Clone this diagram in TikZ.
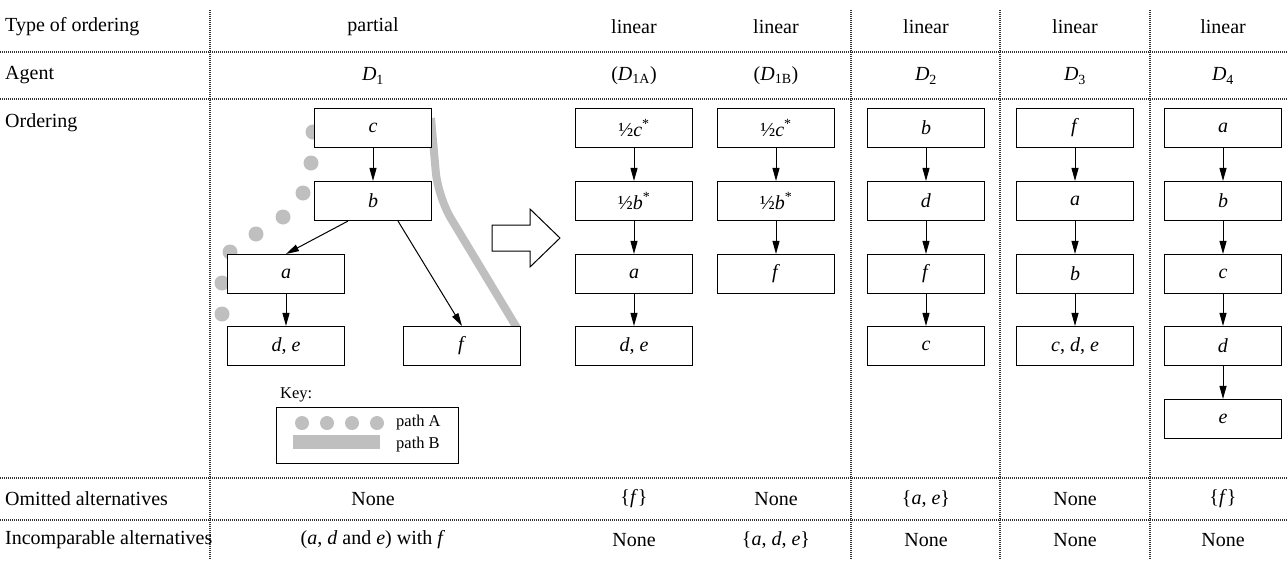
\documentclass[tikz,border=0pt]{standalone}
\usepackage{fontspec}
\setmainfont{Liberation Serif}
\usetikzlibrary{arrows.meta}
\newcommand\vv[1]{\textit{#1}}
\begin{document}
\begin{tikzpicture}[x=1pt,y=-1pt,
  font=\fontsize{20}{23}\selectfont,
  box/.style={draw=black,line width=1.1pt,fill=white,minimum width=117pt,minimum height=39pt,inner sep=0pt},
  arr/.style={-{Triangle[length=13pt,width=7pt]},line width=1pt},
  sep/.style={line width=1.1pt,dash pattern=on 1pt off 1pt,black!80},
  lab/.style={anchor=west,inner sep=0pt},
  cell/.style={inner sep=0pt},
  dotA/.style={fill=black!25,draw=none},
  pathB/.style={line width=8pt,black!25,rounded corners=25pt},
  keyfont/.style={font=\fontsize{16.5}{19}\selectfont},
]
\useasboundingbox (0,0) rectangle (1288,560);
% separators
\foreach \yy in {52,99,478,520} \draw[sep] (0,\yy) -- (1288,\yy);
\foreach \xx in {210,851,1000,1150} \draw[sep] (\xx,10) -- (\xx,560);
% row labels
\node[lab] (r1) at (5,27) {Type of ordering};
\node[lab] (r2) at (5,75) {Agent};
\node[lab] (r3) at (5,123) {Ordering};
\node[lab] (r4) at (5,499) {Omitted alternatives};
\node[lab] (r5) at (5,540) {Incomparable alternatives};
% headers
\node[cell] (t1) at (373,27) {partial};
\node[cell] (t2) at (634,27) {linear};
\node[cell] (t3) at (776,27) {linear};
\node[cell] (t4) at (926,27) {linear};
\node[cell] (t5) at (1075,27) {linear};
\node[cell] (t6) at (1223,27) {linear};
\node[cell] (g1) at (373,76) {\vv{D}\textsubscript{1}};
\node[cell] (g2) at (634,76) {(\vv{D}\textsubscript{1A})};
\node[cell] (g3) at (776,76) {(\vv{D}\textsubscript{1B})};
\node[cell] (g4) at (926,76) {\vv{D}\textsubscript{2}};
\node[cell] (g5) at (1075,76) {\vv{D}\textsubscript{3}};
\node[cell] (g6) at (1223,76) {\vv{D}\textsubscript{4}};
% omitted
\node[cell] (o1) at (373,499) {None};
\node[cell] (o2) at (634,499) {\{\vv{f}\}};
\node[cell] (o3) at (776,499) {None};
\node[cell] (o4) at (926,499) {\{\vv{a}, \vv{e}\}};
\node[cell] (o5) at (1075,499) {None};
\node[cell] (o6) at (1223,499) {\{\vv{f}\}};
% incomparable
\node[cell] (i1) at (373,540) {(\vv{a}, \vv{d} and \vv{e}) with \vv{f}};
\node[cell] (i2) at (634,540) {None};
\node[cell] (i3) at (776,540) {\{\vv{a}, \vv{d}, \vv{e}\}};
\node[cell] (i4) at (926,540) {None};
\node[cell] (i5) at (1075,540) {None};
\node[cell] (i6) at (1223,540) {None};
% path A dots and path B
\foreach \px/\py in {313/132,311/163,303/193,283/217,256/234,230/252,222/283,222/314}
  \fill[dotA] (\px,\py) circle (7.5);
\coordinate (pb0) at (431,118);
\coordinate (pb1) at (438,197);
\coordinate (pb2) at (517,328);
\draw[pathB] (pb0) -- (pb1) -- (pb2);
% D1
\node[box] (c1) at (373,128) {\vv{c}};
\node[box] (b1) at (373,201) {\vv{b}};
\node[box] (a1) at (286,274) {\vv{a}};
\node[box] (de1) at (286,346) {\vv{d}, \vv{e}};
\node[box] (f1) at (462,346) {\vv{f}};
\draw[arr] (c1) -- (b1);
\draw[arr] ([xshift=-25pt]b1.south) -- (a1.north);
\draw[arr] ([xshift=25pt]b1.south) -- (f1.north);
\draw[arr] (a1) -- (de1);
% hollow arrow
\draw[line width=1pt,fill=white] (492,225) -- (530,225) -- (530,209) -- (560,238) -- (530,267) -- (530,251) -- (492,251) -- cycle;
% D1A
\node[box] (p1) at (634,128) {½\vv{c}\textsuperscript{*}};
\node[box] (p2) at (634,201) {½\vv{b}\textsuperscript{*}};
\node[box] (p3) at (634,274) {\vv{a}};
\node[box] (p4) at (634,346) {\vv{d}, \vv{e}};
\draw[arr] (p1) -- (p2);
\draw[arr] (p2) -- (p3);
\draw[arr] (p3) -- (p4);
% D1B
\node[box] (q1) at (776,128) {½\vv{c}\textsuperscript{*}};
\node[box] (q2) at (776,201) {½\vv{b}\textsuperscript{*}};
\node[box] (q3) at (776,274) {\vv{f}};
\draw[arr] (q1) -- (q2);
\draw[arr] (q2) -- (q3);
% D2
\node[box] (s1) at (926,128) {\vv{b}};
\node[box] (s2) at (926,201) {\vv{d}};
\node[box] (s3) at (926,274) {\vv{f}};
\node[box] (s4) at (926,346) {\vv{c}};
\draw[arr] (s1) -- (s2);
\draw[arr] (s2) -- (s3);
\draw[arr] (s3) -- (s4);
% D3
\node[box] (u1) at (1075,128) {\vv{f}};
\node[box] (u2) at (1075,201) {\vv{a}};
\node[box] (u3) at (1075,274) {\vv{b}};
\node[box] (u4) at (1075,346) {\vv{c}, \vv{d}, \vv{e}};
\draw[arr] (u1) -- (u2);
\draw[arr] (u2) -- (u3);
\draw[arr] (u3) -- (u4);
% D4
\node[box] (w1) at (1223,128) {\vv{a}};
\node[box] (w2) at (1223,201) {\vv{b}};
\node[box] (w3) at (1223,274) {\vv{c}};
\node[box] (w4) at (1223,346) {\vv{d}};
\node[box] (w5) at (1223,419) {\vv{e}};
\draw[arr] (w1) -- (w2);
\draw[arr] (w2) -- (w3);
\draw[arr] (w3) -- (w4);
\draw[arr] (w4) -- (w5);
% key
\node[lab,keyfont] (keyt) at (280,395) {Key:};
\node[draw=black,line width=1pt,minimum width=182pt,minimum height=56pt,inner sep=0pt] (keybox) at (367,435) {};
\foreach \kx in {302,327,352,377} \fill[dotA] (\kx,423) circle (7);
\fill[black!25] (293,435) rectangle (380,449);
\node[lab,keyfont] (ka) at (396,423) {path A};
\node[lab,keyfont] (kb) at (396,445) {path B};
\end{tikzpicture}
\end{document}
